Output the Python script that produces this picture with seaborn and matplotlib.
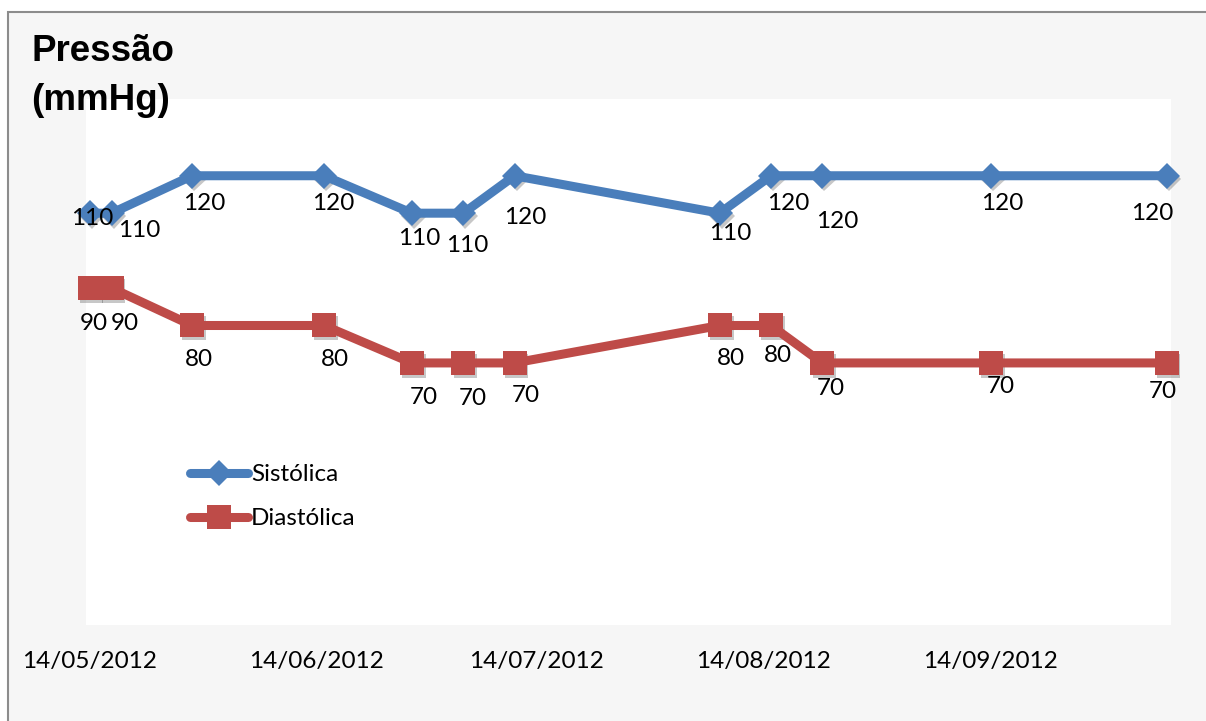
import matplotlib
matplotlib.use("Agg")
import matplotlib.pyplot as plt
import matplotlib.dates as mdates
from matplotlib.patches import Rectangle
import matplotlib.patheffects as pe
import seaborn as sns
import pandas as pd

# ---- data ----
dates = ["2012-05-14", "2012-05-17", "2012-05-28", "2012-06-15", "2012-06-27",
         "2012-07-04", "2012-07-11", "2012-08-08", "2012-08-15", "2012-08-22",
         "2012-09-14", "2012-10-08"]
sistolica = [110, 110, 120, 120, 110, 110, 120, 110, 120, 120, 120, 120]
diastolica = [90, 90, 80, 80, 70, 70, 70, 80, 80, 70, 70, 70]
tick_dates = ["2012-05-14", "2012-06-14", "2012-07-14", "2012-08-14", "2012-09-14"]
series_names = ["Sistólica", "Diastólica"]
title_lines = ["Pressão", "(mmHg)"]

# label offsets (pixels right, pixels down) -- layout only
sis_off = [(3, 5), (28, 17), (12, 28), (9, 28), (7, 25), (4, 32), (11, 42),
           (11, 20), (17, 28), (15, 46), (11, 28), (-14, 38)]
dia_off = [(4, 35), (13, 35), (7, 34), (11, 34), (12, 35), (10, 36), (11, 33),
           (11, 33), (7, 30), (9, 26), (10, 24), (-4, 29)]

df = pd.DataFrame({"data": pd.to_datetime(dates), "sis": sistolica, "dia": diastolica})

W, H = 1206, 721
sns.set_theme(style="white")
plt.rcParams["font.family"] = ["Lato", "DejaVu Sans"]
FS = 17.5

fig = plt.figure(figsize=(W / 100, H / 100), dpi=100, facecolor="white")
fig.patches.append(Rectangle((8 / W, -0.05), 1.1, 1 - 12 / H + 0.05, transform=fig.transFigure,
                             facecolor="#f6f6f6", edgecolor="#8c8c8c", linewidth=1.5, zorder=-5))

ax = fig.add_axes([86 / W, 1 - 625 / H, (1171 - 86) / W, (625 - 99) / H])
ax.set_facecolor("white")
ax.set_zorder(2)

blue = "#4a7ebb"
red = "#be4b48"
shadow = [pe.SimplePatchShadow(offset=(1.5, -2.0), shadow_rgbFace="#000000", alpha=0.22)]

# soft marker shadows (markers only, under the series)
sns.lineplot(data=df, x="data", y="sis", ax=ax, color=blue, linestyle="", marker="D",
             markersize=13, markeredgewidth=0, label="_nolegend_", clip_on=False,
             path_effects=shadow, zorder=1)
sns.lineplot(data=df, x="data", y="dia", ax=ax, color=red, linestyle="", marker="s",
             markersize=17, markeredgewidth=0, label="_nolegend_", clip_on=False,
             path_effects=shadow, zorder=1)

sns.lineplot(data=df, x="data", y="sis", ax=ax, color=blue, linewidth=6.5, marker="D",
             markersize=13, markeredgewidth=0, label=series_names[0],
             solid_capstyle="round", clip_on=False, zorder=3)
sns.lineplot(data=df, x="data", y="dia", ax=ax, color=red, linewidth=6.5, marker="s",
             markersize=17, markeredgewidth=0, label=series_names[1],
             solid_capstyle="round", clip_on=False, zorder=3)

px = 0.72
for d, v, (dx, dy) in zip(df["data"], sistolica, sis_off):
    ax.annotate(str(v), (mdates.date2num(d), v), xytext=(dx * px, -dy * px), zorder=4,
                textcoords="offset points", ha="center", va="center", fontsize=FS, color="black")
for d, v, (dx, dy) in zip(df["data"], diastolica, dia_off):
    ax.annotate(str(v), (mdates.date2num(d), v), xytext=(dx * px, -dy * px), zorder=4,
                textcoords="offset points", ha="center", va="center", fontsize=FS, color="black")

x0 = mdates.date2num(pd.Timestamp(dates[0])) - 0.49
x1 = mdates.date2num(pd.Timestamp(dates[-1])) + 0.6
ax.set_xlim(x0, x1)
ax.set_ylim(0, 140.5)
ax.set_xticks([mdates.date2num(pd.Timestamp(t)) for t in tick_dates])
ax.xaxis.set_major_formatter(mdates.DateFormatter("%d/%m/%Y"))
ax.tick_params(axis="x", length=0, pad=19, labelsize=FS, labelcolor="black")
ax.set_yticks([])
ax.set_xlabel("")
ax.set_ylabel("")
for s in ax.spines.values():
    s.set_visible(False)
ax.grid(False)

handles, labels = ax.get_legend_handles_labels()
leg = ax.legend(handles, labels, loc="upper left", bbox_to_anchor=(190 / W, 1 - 464 / H),
                bbox_transform=fig.transFigure, frameon=False, fontsize=FS,
                handlelength=2.4, handletextpad=0.1, labelspacing=0.95,
                borderpad=0, borderaxespad=0, numpoints=1)
for t in leg.get_texts():
    t.set_color("black")

fig.text(31 / W, 1 - 61 / H, title_lines[0], fontsize=26.5, fontweight="bold",
         family="Liberation Sans", va="baseline", ha="left", color="black", zorder=5)
fig.text(31 / W, 1 - 110 / H, title_lines[1], fontsize=26.5, fontweight="bold",
         family="Liberation Sans", va="baseline", ha="left", color="black", zorder=5)

fig.savefig("out.png", dpi=100, facecolor=fig.get_facecolor())
